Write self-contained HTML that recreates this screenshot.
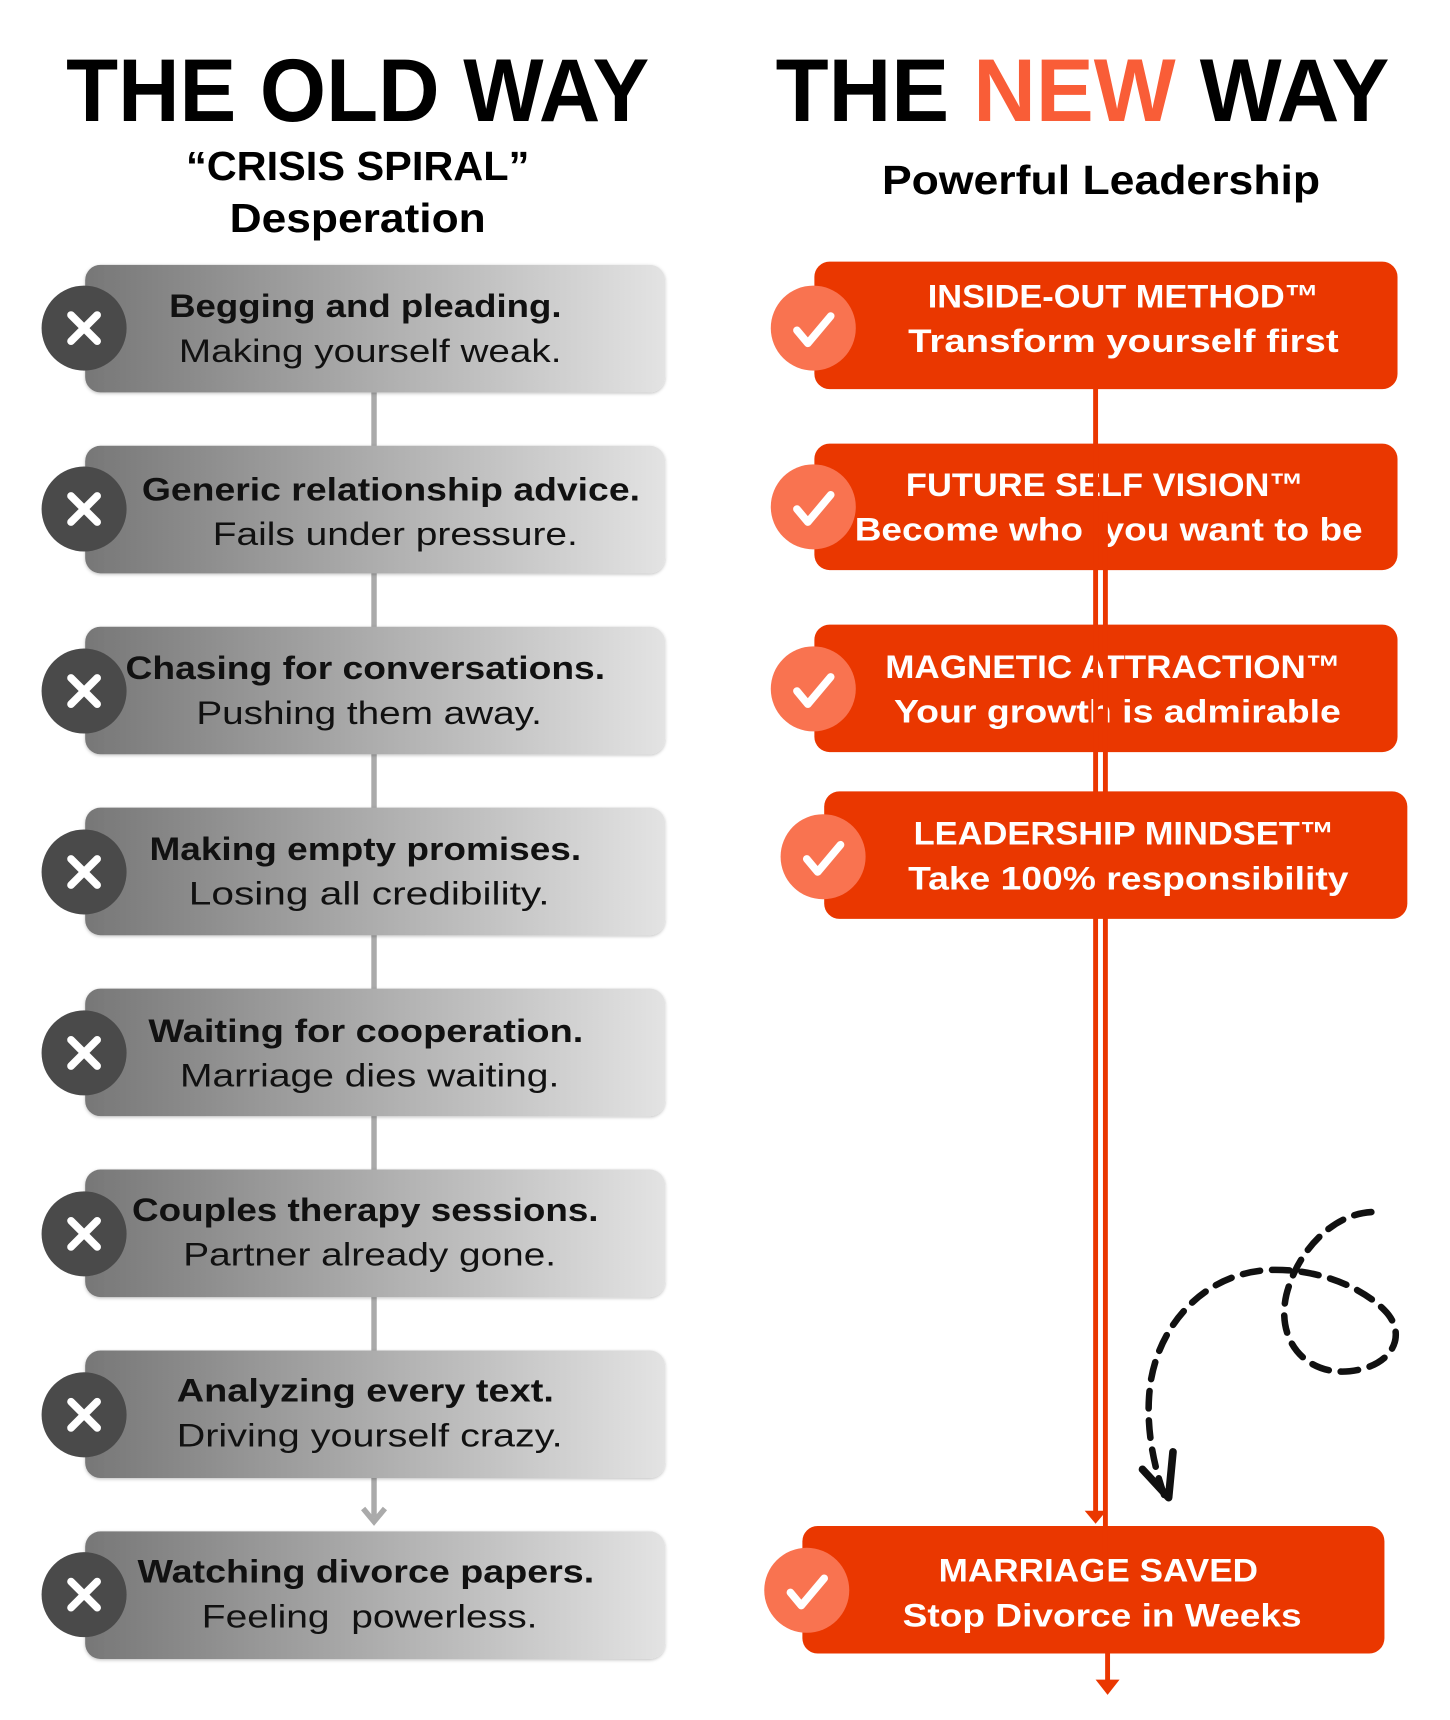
<!DOCTYPE html>
<html><head><meta charset="utf-8"><style>
html,body{margin:0;padding:0;background:#fff;}
svg{display:block;}
text{font-family:"Liberation Sans",sans-serif;}
</style></head><body>
<svg width="1450" height="1720" viewBox="0 0 1330 1578" xmlns="http://www.w3.org/2000/svg">
<defs>
<linearGradient id="g" x1="0" x2="1" y1="0" y2="0">
<stop offset="0" stop-color="#777"/><stop offset="1" stop-color="#e3e3e3"/></linearGradient>
<filter id="sh" x="-5%" y="-5%" width="110%" height="120%"><feDropShadow dx="0" dy="1" stdDeviation="1.5" flood-opacity="0.25"/></filter>
</defs>
<text x="328" y="111" font-size="82" font-weight="bold" text-anchor="middle" textLength="535" lengthAdjust="spacingAndGlyphs">THE OLD WAY</text>
<text x="328" y="165" font-size="37" font-weight="bold" text-anchor="middle" textLength="315" lengthAdjust="spacingAndGlyphs">“CRISIS SPIRAL”</text>
<text x="328" y="213" font-size="37" font-weight="bold" text-anchor="middle" textLength="235" lengthAdjust="spacingAndGlyphs">Desperation</text>
<text x="993" y="111" font-size="82" font-weight="bold" text-anchor="middle" textLength="563" lengthAdjust="spacingAndGlyphs">THE <tspan fill="#f95d37">NEW</tspan> WAY</text>
<text x="1010" y="178" font-size="37" font-weight="bold" text-anchor="middle" textLength="402" lengthAdjust="spacingAndGlyphs">Powerful Leadership</text>

<line x1="343" y1="360" x2="343" y2="1392" stroke="#aaa" stroke-width="5"/>
<polyline points="333,1384 343,1396 353,1384" fill="none" stroke="#aaa" stroke-width="5"/>

<g filter="url(#sh)">
<rect x="78" y="243" width="532" height="117" rx="14" fill="url(#g)"/>
<rect x="78" y="409" width="532" height="117" rx="14" fill="url(#g)"/>
<rect x="78" y="575" width="532" height="117" rx="14" fill="url(#g)"/>
<rect x="78" y="741" width="532" height="117" rx="14" fill="url(#g)"/>
<rect x="78" y="907" width="532" height="117" rx="14" fill="url(#g)"/>
<rect x="78" y="1073" width="532" height="117" rx="14" fill="url(#g)"/>
<rect x="78" y="1239" width="532" height="117" rx="14" fill="url(#g)"/>
<rect x="78" y="1405" width="532" height="117" rx="14" fill="url(#g)"/>
</g>
<g fill="#4a4a4a">
<circle cx="77" cy="301" r="39"/><circle cx="77" cy="467" r="39"/><circle cx="77" cy="634" r="39"/><circle cx="77" cy="800" r="39"/>
<circle cx="77" cy="966" r="39"/><circle cx="77" cy="1132" r="39"/><circle cx="77" cy="1298" r="39"/><circle cx="77" cy="1463" r="39"/>
</g>
<g stroke="#fff" stroke-width="7" stroke-linecap="round">
<path d="M65,289 L89,313 M89,289 L65,313"/>
<path d="M65,455 L89,479 M89,455 L65,479"/>
<path d="M65,622 L89,646 M89,622 L65,646"/>
<path d="M65,788 L89,812 M89,788 L65,812"/>
<path d="M65,954 L89,978 M89,954 L65,978"/>
<path d="M65,1120 L89,1144 M89,1120 L65,1144"/>
<path d="M65,1286 L89,1310 M89,1286 L65,1310"/>
<path d="M65,1451 L89,1475 M89,1451 L65,1475"/>
</g>
<g font-size="30" fill="#111">
<text x="155" y="291" font-weight="bold" textLength="360" lengthAdjust="spacingAndGlyphs">Begging and pleading.</text>
<text x="164" y="332" textLength="351" lengthAdjust="spacingAndGlyphs">Making yourself weak.</text>
<text x="130" y="459" font-weight="bold" textLength="457" lengthAdjust="spacingAndGlyphs">Generic relationship advice.</text>
<text x="195" y="500" textLength="335" lengthAdjust="spacingAndGlyphs">Fails under pressure.</text>
<text x="115" y="623" font-weight="bold" textLength="440" lengthAdjust="spacingAndGlyphs">Chasing for conversations.</text>
<text x="180" y="664" textLength="317" lengthAdjust="spacingAndGlyphs">Pushing them away.</text>
<text x="137" y="789" font-weight="bold" textLength="396" lengthAdjust="spacingAndGlyphs">Making empty promises.</text>
<text x="173" y="830" textLength="331" lengthAdjust="spacingAndGlyphs">Losing all credibility.</text>
<text x="136" y="956" font-weight="bold" textLength="399" lengthAdjust="spacingAndGlyphs">Waiting for cooperation.</text>
<text x="165" y="997" textLength="348" lengthAdjust="spacingAndGlyphs">Marriage dies waiting.</text>
<text x="121" y="1120" font-weight="bold" textLength="428" lengthAdjust="spacingAndGlyphs">Couples therapy sessions.</text>
<text x="168" y="1161" textLength="342" lengthAdjust="spacingAndGlyphs">Partner already gone.</text>
<text x="162" y="1286" font-weight="bold" textLength="346" lengthAdjust="spacingAndGlyphs">Analyzing every text.</text>
<text x="162" y="1327" textLength="354" lengthAdjust="spacingAndGlyphs">Driving yourself crazy.</text>
<text x="126" y="1452" font-weight="bold" textLength="419" lengthAdjust="spacingAndGlyphs">Watching divorce papers.</text>
<text x="185" y="1493" textLength="308" lengthAdjust="spacingAndGlyphs" xml:space="preserve">Feeling  powerless.</text>
</g>

<g fill="#ea3700">
<rect x="747" y="240" width="535" height="117" rx="14"/>
<rect x="747" y="407" width="535" height="116" rx="14"/>
<rect x="747" y="573" width="535" height="117" rx="14"/>
<rect x="736" y="1400" width="534" height="117" rx="14"/>
</g>
<g fill="#f97350">
<circle cx="746" cy="301" r="39"/><circle cx="746" cy="465" r="39"/><circle cx="746" cy="632" r="39"/><circle cx="740" cy="1459" r="39"/>
</g>
<g stroke="#fff" stroke-width="7" stroke-linecap="round" stroke-linejoin="round" fill="none">
<polyline points="731,303 741,315 762,290"/>
<polyline points="731,467 741,479 762,454"/>
<polyline points="731,634 741,646 762,621"/>
<polyline points="725,1461 735,1473 756,1448"/>
</g>
<g font-size="30" font-weight="bold" fill="#fff">
<text x="851" y="282" textLength="359" lengthAdjust="spacingAndGlyphs">INSIDE-OUT METHOD™</text>
<text x="833" y="323" textLength="395" lengthAdjust="spacingAndGlyphs">Transform yourself first</text>
<text x="831" y="455" textLength="365" lengthAdjust="spacingAndGlyphs">FUTURE SELF VISION™</text>
<text x="784" y="496" textLength="466" lengthAdjust="spacingAndGlyphs" xml:space="preserve">Become who  you want to be</text>
<text x="812" y="622" textLength="418" lengthAdjust="spacingAndGlyphs">MAGNETIC ATTRACTION™</text>
<text x="820" y="663" textLength="410" lengthAdjust="spacingAndGlyphs">Your growth is admirable</text>
<text x="861" y="1451" textLength="293" lengthAdjust="spacingAndGlyphs">MARRIAGE SAVED</text>
<text x="828" y="1492" textLength="366" lengthAdjust="spacingAndGlyphs">Stop Divorce in Weeks</text>
</g>

<g stroke="#ea3700" stroke-width="4.5">
<line x1="1005" y1="355" x2="1005" y2="1392"/>
<line x1="1014" y1="470" x2="1014" y2="1450"/>
<line x1="1016" y1="1515" x2="1016" y2="1545"/>
</g>
<polygon points="995,1386 1015,1386 1005,1398" fill="#ea3700"/>
<polygon points="1005,1541 1027,1541 1016,1555" fill="#ea3700"/>

<rect x="756" y="726" width="535" height="117" rx="14" fill="#ea3700"/>
<circle cx="755" cy="786" r="39" fill="#f97350"/>
<polyline points="740,788 750,800 771,775" stroke="#fff" stroke-width="7" stroke-linecap="round" stroke-linejoin="round" fill="none"/>
<g font-size="30" font-weight="bold" fill="#fff">
<text x="838" y="775" textLength="386" lengthAdjust="spacingAndGlyphs">LEADERSHIP MINDSET™</text>
<text x="833" y="816" textLength="404" lengthAdjust="spacingAndGlyphs">Take 100% responsibility</text>
</g>

<path d="M1258,1112 C1222,1114 1190,1148 1180,1188 C1170,1232 1200,1262 1238,1258 C1278,1254 1292,1224 1270,1202 C1248,1180 1210,1165 1170,1165 C1110,1165 1066,1210 1056,1265 C1050,1300 1056,1338 1068,1372" fill="none" stroke="#111" stroke-width="6" stroke-dasharray="16 11" stroke-linecap="round"/>
<polyline points="1048,1348 1072,1374 1076,1332" fill="none" stroke="#111" stroke-width="7" stroke-linecap="round" stroke-linejoin="round"/>
</svg>
</body></html>
